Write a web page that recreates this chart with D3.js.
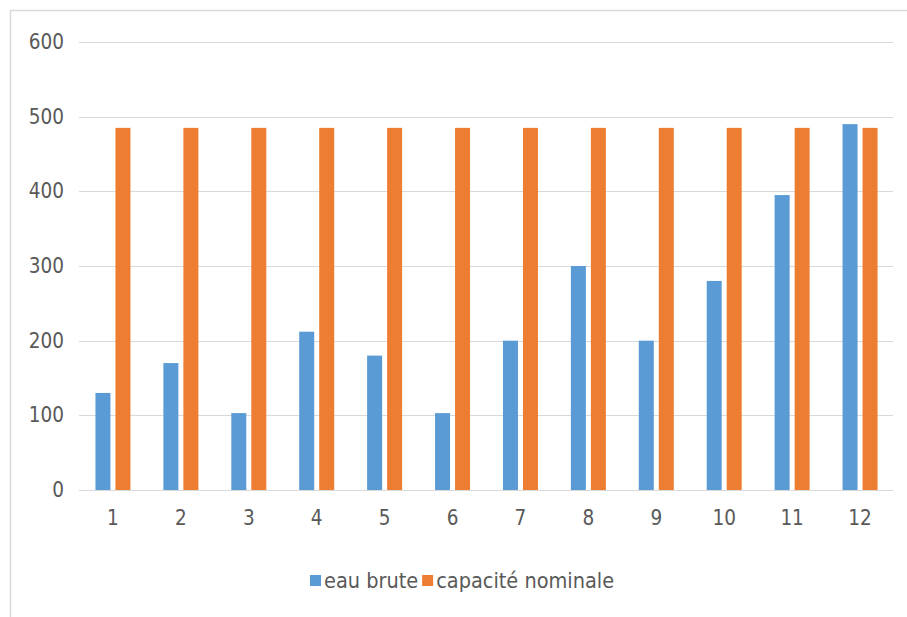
<!DOCTYPE html>
<html>
<head>
<meta charset="utf-8">
<script src="https://cdn.jsdelivr.net/npm/d3@7"></script>
<style>
  html, body { margin: 0; padding: 0; background: #fff; }
  svg { display: block; }
  text { font-family: "DejaVu Sans Condensed", "Liberation Sans Narrow", "Open Sans", sans-serif; fill: #595959; }
</style>
</head>
<body>
<svg id="chart" width="907" height="617"></svg>
<script>
// Monthly raw-water volume against the plant's nominal capacity
const months = ["1", "2", "3", "4", "5", "6", "7", "8", "9", "10", "11", "12"];
const eauBrute = [130, 170, 103, 212, 180, 103, 200, 300, 200, 280, 395, 490];
const capaciteNominale = [485, 485, 485, 485, 485, 485, 485, 485, 485, 485, 485, 485];
const yTicks = [0, 100, 200, 300, 400, 500, 600];
const seriesNames = ["eau brute", "capacité nominale"];
const seriesColors = ["#5B9BD5", "#ED7D31"];

const svg = d3.select("#chart");
const FONT = "\"DejaVu Sans Condensed\", \"Liberation Sans Narrow\", sans-serif";

// outer chart-area frame
svg.append("rect")
  .attr("x", 10.5).attr("y", 10.5)
  .attr("width", 910).attr("height", 620)
  .attr("fill", "none").attr("stroke", "#D9D9D9").attr("stroke-width", 1.5);

const plot = { left: 79, right: 894, top: 42, bottom: 490 };

const x = d3.scaleBand().domain(months).range([plot.left, plot.right]).paddingInner(0).paddingOuter(0);
const y = d3.scaleLinear().domain([0, 600]).range([plot.bottom, plot.top]);

// horizontal gridlines
svg.append("g").selectAll("line").data(yTicks).join("line")
  .attr("x1", plot.left).attr("x2", plot.right - 1)
  .attr("y1", d => Math.round(y(d)) + 0.5).attr("y2", d => Math.round(y(d)) + 0.5)
  .attr("stroke", "#D9D9D9").attr("stroke-width", 1.2);

// y axis labels
const yAxis = d3.axisLeft(y).tickValues(yTicks).tickSize(0).tickPadding(0);
const gy = svg.append("g").attr("transform", `translate(${plot.left - 15},0)`).call(yAxis);
gy.select(".domain").remove();
gy.selectAll("text").attr("font-size", 20.5).attr("fill", "#595959").style("font-family", FONT);

// x axis labels
const xAxis = d3.axisBottom(x).tickSize(0).tickPadding(0);
const gx = svg.append("g").attr("transform", `translate(0,${plot.bottom + 20})`).call(xAxis);
gx.select(".domain").remove();
gx.selectAll("text").attr("font-size", 20.5).attr("fill", "#595959").style("font-family", FONT);

// grouped bars
const barW = 15, gap = 5;
const series = [eauBrute, capaciteNominale];
series.forEach((vals, si) => {
  svg.append("g").selectAll("rect").data(vals).join("rect")
    .attr("x", (d, i) => x(months[i]) + x.bandwidth() / 2 - (barW + gap / 2) + si * (barW + gap))
    .attr("y", d => y(d))
    .attr("width", barW)
    .attr("height", d => y(0) - y(d))
    .attr("fill", seriesColors[si]);
});

// legend
const legend = svg.append("g").attr("transform", "translate(310,580)");
let lx = 0;
seriesNames.forEach((name, i) => {
  const g = legend.append("g").attr("transform", `translate(${lx},0)`);
  g.append("rect").attr("x", 0).attr("y", -5).attr("width", 11).attr("height", 11).attr("fill", seriesColors[i]);
  const t = g.append("text").attr("x", 14).attr("y", 0).attr("dy", "0.35em")
    .attr("font-size", 21.5).attr("fill", "#595959").style("font-family", FONT).text(name);
  lx += 14 + t.node().getComputedTextLength() + 4;
});
</script>
</body>
</html>
